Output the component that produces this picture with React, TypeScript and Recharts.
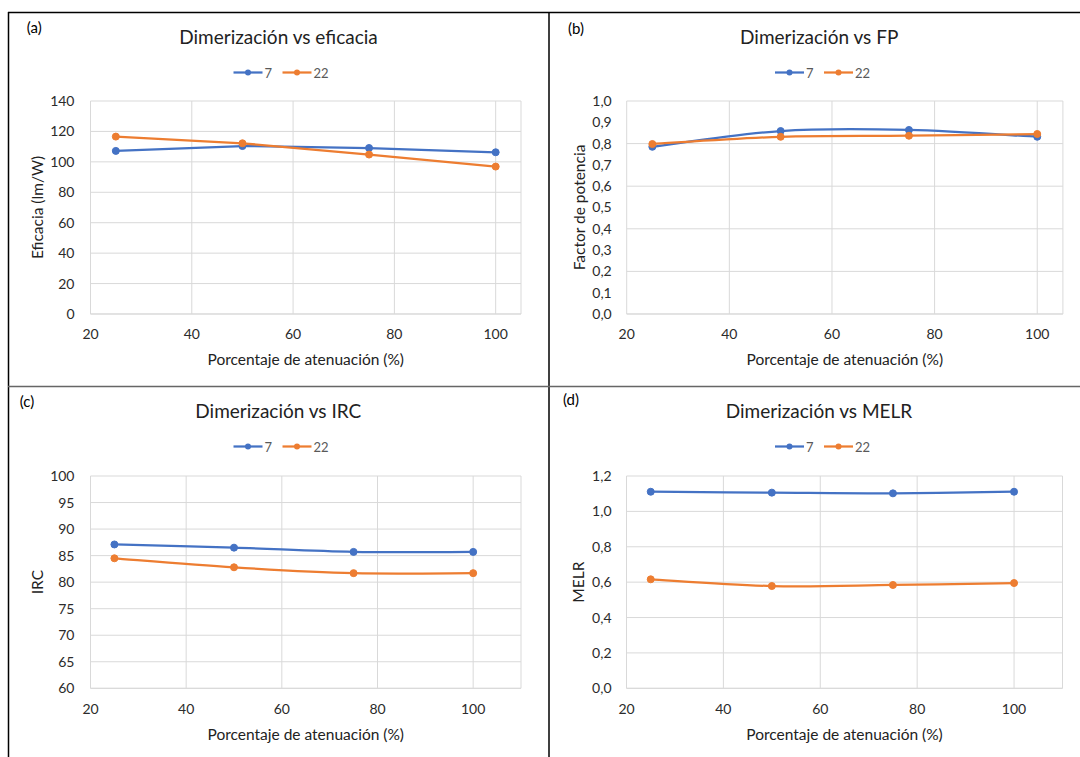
import React from "react";
import { LineChart, Line, XAxis, YAxis, CartesianGrid } from "recharts";

// ---------- data ----------
const attenuation = [25, 50, 75, 100];
const seriesNames = ["7", "22"];

const eficacia7 = [107.2, 110.4, 109.1, 106.3];
const eficacia22 = [116.6, 112.2, 104.8, 96.9];

const fp7 = [0.785, 0.859, 0.864, 0.832];
const fp22 = [0.798, 0.832, 0.837, 0.845];

const irc7 = [87.1, 86.5, 85.7, 85.7];
const irc22 = [84.5, 82.8, 81.7, 81.7];

const melr7 = [1.111, 1.106, 1.102, 1.111];
const melr22 = [0.616, 0.578, 0.584, 0.595];

const xTicks = [20, 40, 60, 80, 100];
const ticksEficacia = [0, 20, 40, 60, 80, 100, 120, 140];
const ticksFp = [0, 0.1, 0.2, 0.3, 0.4, 0.5, 0.6, 0.7, 0.8, 0.9, 1.0];
const ticksIrc = [60, 65, 70, 75, 80, 85, 90, 95, 100];
const ticksMelr = [0, 0.2, 0.4, 0.6, 0.8, 1.0, 1.2];

const titles = [
  "Dimerización vs eficacia",
  "Dimerización vs FP",
  "Dimerización vs IRC",
  "Dimerización vs MELR",
];
const letters = ["(a)", "(b)", "(c)", "(d)"];
const yTitles = ["Eficacia (lm/W)", "Factor de potencia", "IRC", "MELR"];
const xTitle = "Porcentaje de atenuación (%)";

const BLUE = "#4472C4";
const ORANGE = "#ED7D31";
const GRID = "#D9D9D9";
const FONT = "Lato, 'Open Sans', sans-serif";

const buildRows = (a: number[], b: number[]) =>
  attenuation.map((x, i) => ({ x, s7: a[i], s22: b[i] }));

// Excel-like smoothed line (Catmull-Rom style Bezier)
const excelSmooth = (context: any) => {
  let pts: number[][] = [];
  return {
    areaStart() {},
    areaEnd() {},
    lineStart() {
      pts = [];
    },
    lineEnd() {
      if (!pts.length) return;
      context.moveTo(pts[0][0], pts[0][1]);
      for (let i = 0; i < pts.length - 1; i++) {
        const p0 = pts[i - 1] || pts[i];
        const p1 = pts[i];
        const p2 = pts[i + 1];
        const p3 = pts[i + 2] || p2;
        context.bezierCurveTo(
          p1[0] + (p2[0] - p0[0]) / 6,
          p1[1] + (p2[1] - p0[1]) / 6,
          p2[0] - (p3[0] - p1[0]) / 6,
          p2[1] - (p3[1] - p1[1]) / 6,
          p2[0],
          p2[1]
        );
      }
    },
    point(x: number, y: number) {
      pts.push([+x, +y]);
    },
  };
};

const comma1 = (v: number) => v.toFixed(1).replace(".", ",");

type Box = { x: number; y: number; w: number; h: number };
type Plot = { l: number; r: number; t: number; b: number };

interface PanelProps {
  box: Box;
  plot: Plot;
  rows: { x: number; s7: number; s22: number }[];
  xDomain: [number, number];
  yDomain: [number, number];
  yTicks: number[];
  curve: any;
  fmt?: (v: number) => string;
  yTickGap: number;
}

const Y_AXIS_W = 60;
const X_AXIS_H = 30;
const TICK_FONT = 14;

const Panel = ({ box, plot, rows, xDomain, yDomain, yTicks, curve, fmt, yTickGap }: PanelProps) => {
  const margin = {
    left: plot.l - box.x - Y_AXIS_W,
    right: box.x + box.w - plot.r,
    top: plot.t - box.y,
    bottom: box.y + box.h - plot.b - X_AXIS_H,
  };
  return (
    <div style={{ position: "absolute", left: box.x, top: box.y, width: box.w, height: box.h }}>
      <LineChart width={box.w} height={box.h} data={rows} margin={margin}>
        <CartesianGrid stroke={GRID} strokeWidth={1} />
        <XAxis
          type="number"
          dataKey="x"
          domain={xDomain}
          ticks={xTicks}
          allowDataOverflow
          height={X_AXIS_H}
          tickSize={0}
          tickMargin={15.5}
          axisLine={{ stroke: GRID }}
          tickLine={false}
          tick={{ fontSize: TICK_FONT, fill: "#2b2b2b", fontFamily: FONT }}
        />
        <YAxis
          type="number"
          domain={yDomain}
          ticks={yTicks}
          allowDataOverflow
          width={Y_AXIS_W}
          tickSize={0}
          tickMargin={yTickGap}
          axisLine={false}
          tickLine={false}
          tickFormatter={fmt}
          tick={{ fontSize: TICK_FONT, fill: "#2b2b2b", fontFamily: FONT }}
        />
        <Line
          dataKey="s7"
          name={seriesNames[0]}
          type={curve}
          stroke={BLUE}
          strokeWidth={2.25}
          dot={{ r: 3.5, fill: BLUE, stroke: BLUE, strokeWidth: 1 }}
          isAnimationActive={false}
        />
        <Line
          dataKey="s22"
          name={seriesNames[1]}
          type={curve}
          stroke={ORANGE}
          strokeWidth={2.25}
          dot={{ r: 3.5, fill: ORANGE, stroke: ORANGE, strokeWidth: 1 }}
          isAnimationActive={false}
        />
      </LineChart>
    </div>
  );
};

const LegendSvg = ({ cx, cy }: { cx: number; cy: number }) => {
  const items = [
    { name: seriesNames[0], color: BLUE, tw: 7 },
    { name: seriesNames[1], color: ORANGE, tw: 14 },
  ];
  const lineLen = 29;
  const gap = 11;
  const widths = items.map((it) => lineLen + 2 + it.tw);
  const total = widths.reduce((a, b) => a + b, 0) + gap * (items.length - 1);
  let x = cx - total / 2;
  return (
    <g>
      {items.map((it, i) => {
        const x0 = x;
        x += widths[i] + gap;
        return (
          <g key={it.name}>
            <line x1={x0} x2={x0 + lineLen} y1={cy} y2={cy} stroke={it.color} strokeWidth={2.25} />
            <circle cx={x0 + lineLen / 2} cy={cy} r={3} fill={it.color} />
            <text x={x0 + lineLen + 2} y={cy} dominantBaseline="central" fontSize={13} fill="#595959">
              {it.name}
            </text>
          </g>
        );
      })}
    </g>
  );
};

const panels = [
  {
    box: { x: 8, y: 12, w: 541, h: 374 },
    plot: { l: 90.5, r: 521, t: 101, b: 314 },
    rows: buildRows(eficacia7, eficacia22),
    xDomain: [20, 105] as [number, number],
    yDomain: [0, 140] as [number, number],
    yTicks: ticksEficacia,
    curve: "linear",
    fmt: undefined,
    yTickGap: 16,
    titleX: 278.5, titleY: 43.5,
    letterX: 34.3, letterY: 27,
    legendX: 280.5, legendY: 72.5,
    yTitleX: 36.8,
    xTitleY: 359,
  },
  {
    box: { x: 549, y: 12, w: 531, h: 374 },
    plot: { l: 626.7, r: 1062.9, t: 101, b: 314 },
    rows: buildRows(fp7, fp22),
    xDomain: [20, 105] as [number, number],
    yDomain: [0, 1] as [number, number],
    yTicks: ticksFp,
    curve: excelSmooth,
    fmt: comma1,
    yTickGap: 15,
    titleX: 819.2, titleY: 43.5,
    letterX: 576, letterY: 27.5,
    legendX: 822, legendY: 72.5,
    yTitleX: 578.6,
    xTitleY: 359,
  },
  {
    box: { x: 8, y: 386, w: 541, h: 371 },
    plot: { l: 90.5, r: 521, t: 476, b: 688.3 },
    rows: buildRows(irc7, irc22),
    xDomain: [20, 110] as [number, number],
    yDomain: [60, 100] as [number, number],
    yTicks: ticksIrc,
    curve: excelSmooth,
    fmt: undefined,
    yTickGap: 16,
    titleX: 278.3, titleY: 418,
    letterX: 27, letterY: 401,
    legendX: 280.5, legendY: 446.5,
    yTitleX: 36.8,
    xTitleY: 733.7,
  },
  {
    box: { x: 549, y: 386, w: 531, h: 371 },
    plot: { l: 626.5, r: 1062.5, t: 476, b: 688.3 },
    rows: buildRows(melr7, melr22),
    xDomain: [20, 110] as [number, number],
    yDomain: [0, 1.2] as [number, number],
    yTicks: ticksMelr,
    curve: excelSmooth,
    fmt: comma1,
    yTickGap: 15,
    titleX: 819, titleY: 418,
    letterX: 571, letterY: 399,
    legendX: 822, legendY: 446.5,
    yTitleX: 578,
    xTitleY: 733.7,
  },
];

export default function App() {
  return (
    <div
      style={{
        position: "absolute",
        left: 0,
        top: 0,
        width: 1080,
        height: 757,
        background: "#fff",
        fontFamily: FONT,
        overflow: "hidden",
      }}
    >
      {panels.map((p, i) => (
        <Panel
          key={i}
          box={p.box}
          plot={p.plot}
          rows={p.rows}
          xDomain={p.xDomain}
          yDomain={p.yDomain}
          yTicks={p.yTicks}
          curve={p.curve}
          fmt={p.fmt}
          yTickGap={p.yTickGap}
        />
      ))}
      <svg
        width={1080}
        height={757}
        style={{ position: "absolute", left: 0, top: 0, pointerEvents: "none", fontFamily: FONT }}
      >
        {/* frame */}
        <line x1={8} x2={1080} y1={12.5} y2={12.5} stroke="#000" strokeWidth={1.5} />
        <line x1={8.5} x2={8.5} y1={12} y2={757} stroke="#000" strokeWidth={1.5} />
        <line x1={549} x2={549} y1={12} y2={757} stroke="#000" strokeWidth={1.5} />
        <line x1={8} x2={1080} y1={386.5} y2={386.5} stroke="#666" strokeWidth={1.7} />
        {panels.map((p, i) => {
          const yMid = (p.plot.t + p.plot.b) / 2;
          const xMid = (p.plot.l + p.plot.r) / 2;
          return (
            <g key={i}>
              <text x={p.letterX} y={p.letterY} textAnchor="middle" dominantBaseline="central" fontSize={15} fill="#000">
                {letters[i]}
              </text>
              <text x={p.titleX} y={p.titleY} textAnchor="middle" fontSize={19} fill="#222">
                {titles[i]}
              </text>
              <LegendSvg cx={p.legendX} cy={p.legendY} />
              <text
                x={p.yTitleX}
                y={yMid}
                textAnchor="middle"
                dominantBaseline="central"
                fontSize={15.5}
                fill="#222"
                transform={`rotate(-90 ${p.yTitleX} ${yMid})`}
              >
                {yTitles[i]}
              </text>
              <text x={xMid} y={p.xTitleY} textAnchor="middle" dominantBaseline="central" fontSize={15.5} fill="#222">
                {xTitle}
              </text>
            </g>
          );
        })}
      </svg>
    </div>
  );
}
